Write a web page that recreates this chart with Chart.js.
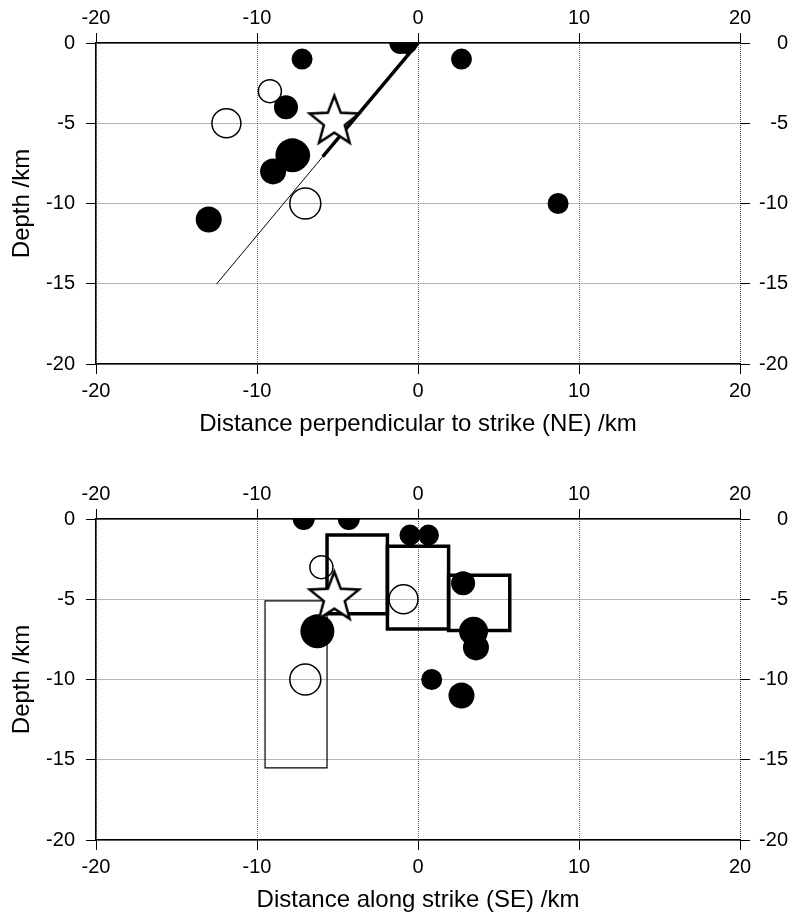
<!DOCTYPE html>
<html><head><meta charset="utf-8">
<script src="https://cdn.jsdelivr.net/npm/chart.js@4.4.1/dist/chart.umd.min.js"></script>
<style>
html,body{margin:0;padding:0;background:#fff;width:793px;height:918px;overflow:hidden}
.p{position:absolute;left:0;width:793px;height:442px}
</style></head>
<body>
<div class="p" style="top:0"><canvas id="c1" width="793" height="442"></canvas></div>
<div class="p" style="top:476px"><canvas id="c2" width="793" height="442"></canvas></div>
<script>
// ---- data ----
const perpNE     = [-1.1, -0.7, -7.2, 2.7, -9.2, -8.2, -11.9, -7.8, -7.6, -9.0, -7.0, 8.7, -13.0];
const alongSE    = [-7.1, -4.3, -0.5, 0.65, -6.0, 2.8, -0.9, -6.25, 3.45, 3.6, -7.0, 0.85, 2.7];
const depthKm    = [0, 0, -1, -1, -3, -4, -5, -7, -7, -8, -10, -10, -11];
const magnitude  = [2.2, 2.2, 2.1, 2.1, 2.3, 2.4, 2.9, 3.4, 2.9, 2.6, 3.1, 2.1, 2.6];
const openSymbol = [false, false, false, false, true, false, true, false, false, false, true, false, false];

const hypoPerp  = -5.2;
const hypoAlong = -5.2;
const hypoDepth = -4.9;

const faultPerp  = [-12.5, -5.85, 0];
const faultDepth = [-15, -7, 0];

const patchStart  = [-9.5, -5.65, -1.9, 1.9];
const patchEnd    = [-5.65, -1.9, 1.9, 5.7];
const patchTop    = [-5.1, -1.0, -1.7, -3.5];
const patchBottom = [-15.5, -5.9, -6.85, -6.95];

const xTickStep = 10, yTickStep = 5;
const xMin = -20, xMax = 20, yMin = -20, yMax = 0;

// ---- styling ----
const FAM = '"Liberation Sans", Arial, Helvetica, sans-serif';
const tickFont = {family: FAM, size: 20, lineHeight: 1};
const titleFont = {family: FAM, size: 24, lineHeight: 1};
const radiusOf = m => m * 5;

function makeStar(R, r, lw) {
  const size = Math.ceil(2 * R + 2 * lw + 4);
  const c = document.createElement('canvas');
  c.width = size; c.height = size;
  const g = c.getContext('2d');
  g.translate(size / 2, size / 2);
  g.beginPath();
  for (let i = 0; i < 10; i++) {
    const a = -Math.PI / 2 + i * Math.PI / 5;
    const rr = i % 2 === 0 ? R : r;
    const px = rr * Math.cos(a), py = rr * Math.sin(a);
    if (i === 0) g.moveTo(px, py); else g.lineTo(px, py);
  }
  g.closePath();
  g.fillStyle = '#fff';
  g.fill();
  g.lineWidth = lw;
  g.lineJoin = 'miter';
  g.strokeStyle = '#000';
  g.stroke();
  return c;
}
const starImg = makeStar(26, 11, 2.5);

function pts(xs, ys, filter) {
  const out = [];
  for (let i = 0; i < xs.length; i++) if (!filter || filter(i)) out.push({x: xs[i], y: ys[i], m: magnitude[i]});
  return out;
}

function eventDatasets(xs) {
  return [
    {label: 'hypocentre', data: [{x: xs === perpNE ? hypoPerp : hypoAlong, y: hypoDepth}],
     pointStyle: starImg, pointRadius: 26, order: 0, clip: 0},
    {label: 'open', data: pts(xs, depthKm, i => openSymbol[i]),
     pointRadius: c => radiusOf(c.raw.m), pointBackgroundColor: 'rgba(0,0,0,0)',
     pointBorderColor: '#000', pointBorderWidth: 1.5, order: 1, clip: 0},
    {label: 'filled', data: pts(xs, depthKm, i => !openSymbol[i]),
     pointRadius: c => radiusOf(c.raw.m), pointBackgroundColor: '#000',
     pointBorderColor: '#000', pointBorderWidth: 0, order: 2, clip: 0}
  ];
}

function lineDs(data, width, order) {
  return {data, showLine: true, fill: false, pointRadius: 0, borderColor: '#000',
          borderWidth: width, borderJoinStyle: 'miter', borderCapStyle: 'square',
          tension: 0, order, clip: 0};
}

function makeScales(xTitle) {
  const gridColor = c => (c.tick && c.tick.value === xMax) ? '#333' : '#6a6a6a';
  return {
    x: {type: 'linear', position: 'bottom', min: xMin, max: xMax,
        ticks: {stepSize: xTickStep, font: tickFont, color: '#000', padding: 7, maxRotation: 0, autoSkip: false},
        grid: {color: gridColor, lineWidth: 1, tickColor: '#000', tickLength: 10, tickWidth: 1},
        border: {display: true, color: '#000', width: 1.5, dash: [1, 1]},
        title: {display: true, text: xTitle, font: titleFont, color: '#000', padding: {top: 0, bottom: 6}},
        afterFit: s => { s.height = 78; }},
    x2: {type: 'linear', position: 'top', min: xMin, max: xMax,
        ticks: {stepSize: xTickStep, font: tickFont, color: '#000', padding: 5, maxRotation: 0, autoSkip: false},
        grid: {drawOnChartArea: false, tickColor: '#000', tickLength: 10, tickWidth: 1},
        border: {display: true, color: '#000', width: 1.5},
        afterFit: s => { s.height = 43; }},
    y: {type: 'linear', position: 'left', min: yMin, max: yMax,
        ticks: {stepSize: yTickStep, font: tickFont, color: '#000', padding: 11},
        grid: {color: '#6a6a6a', lineWidth: 1, tickColor: '#000', tickLength: 10, tickWidth: 1},
        border: {display: true, color: '#000', width: 1.5, dash: [1, 1]},
        title: {display: true, text: 'Depth /km', font: titleFont, color: '#000', padding: {top: 10, bottom: 0}},
        afterFit: s => { s.width = 96; }},
    y2: {type: 'linear', position: 'right', min: yMin, max: yMax,
        ticks: {stepSize: yTickStep, font: tickFont, color: '#000', padding: 10, crossAlign: 'far'},
        grid: {drawOnChartArea: false, tickColor: '#000', tickLength: 10, tickWidth: 1},
        border: {display: false},
        afterFit: s => { s.width = 48; }}
  };
}

const baseOptions = xTitle => ({
  responsive: false, animation: false, devicePixelRatio: 1, events: [],
  layout: {padding: {left: 0, right: 5, top: 0, bottom: 0}, autoPadding: false},
  plugins: {legend: {display: false}, tooltip: {enabled: false}},
  scales: makeScales(xTitle)
});

// top panel: cross-section perpendicular to strike
const faultThin = [{x: faultPerp[0], y: faultDepth[0]}, {x: faultPerp[1], y: faultDepth[1]}];
const faultThick = [{x: faultPerp[1], y: faultDepth[1]}, {x: faultPerp[2], y: faultDepth[2]}];
new Chart(document.getElementById('c1'), {
  type: 'scatter',
  data: {datasets: [
    ...eventDatasets(perpNE),
    lineDs(faultThick, 3.5, 3),
    lineDs(faultThin, 1, 4)
  ]},
  options: baseOptions('Distance perpendicular to strike (NE) /km')
});

// bottom panel: along strike
const patchDs = [];
for (let i = 0; i < patchStart.length; i++) {
  const a = patchStart[i], b = patchEnd[i], t = patchTop[i], btm = patchBottom[i];
  patchDs.push(lineDs([{x: a, y: t}, {x: b, y: t}, {x: b, y: btm}, {x: a, y: btm}, {x: a, y: t}],
                      i === 0 ? 1.2 : 3.5, 3 + i));
}
new Chart(document.getElementById('c2'), {
  type: 'scatter',
  data: {datasets: [...eventDatasets(alongSE), ...patchDs]},
  options: baseOptions('Distance along strike (SE) /km')
});
</script>
</body></html>
